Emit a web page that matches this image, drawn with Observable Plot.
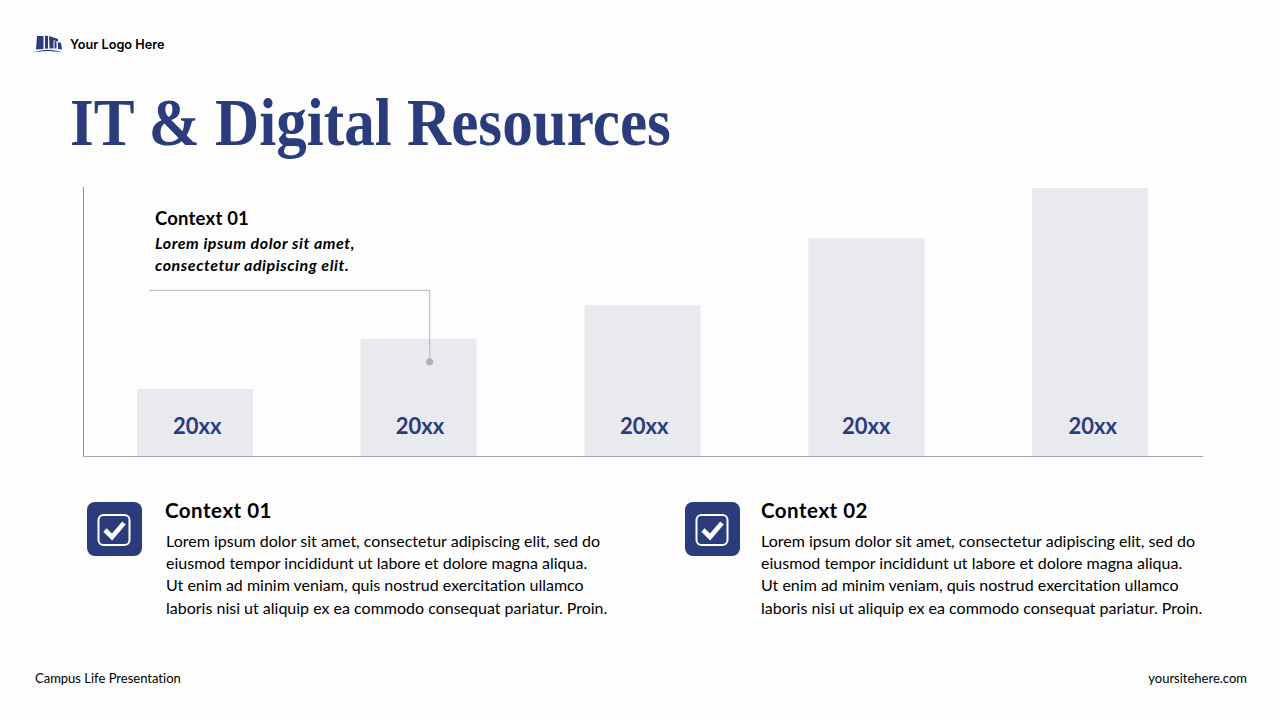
<!DOCTYPE html>
<html><head><meta charset="utf-8">
<script src="https://cdn.jsdelivr.net/npm/d3@7"></script>
<script src="https://cdn.jsdelivr.net/npm/@observablehq/plot@0.6"></script>
<style>
html,body{margin:0;padding:0;background:#fdfdfe;}
#page{position:relative;width:1280px;height:720px;overflow:hidden;font-family:Lato,sans-serif;color:#000;font-variant-ligatures:none;}
#page>div,#page>svg{position:absolute;white-space:nowrap;}
#chart{left:83px;top:187px;}
#chart svg{overflow:visible;background:transparent;display:block;}
.h{font-weight:700;font-size:20.5px;line-height:24px;letter-spacing:.5px}
.b{font-size:16px;line-height:22.4px}
.i{font-style:italic;font-weight:700;font-size:16px;line-height:22px;letter-spacing:.55px}
</style></head><body>
<div id="page">
<svg style="left:33px;top:33px" width="32" height="22" viewBox="0 0 32 22">
<path d="M4 3 L10.5 3 L10.5 16 L3 16.5 Z M12 2.5 L15 3 L15 15.5 L12 15.8 Z M16 3 L25 6 L25 8.5 L20.5 7.2 L20.5 15.5 L16.5 15.5 Z M21.5 8 L23.5 8.5 L23.5 15.5 L21.5 15.5 Z M25 9 L28 10 L29 16.5 L25 16 Z" fill="#2a3c7c"/>
<path d="M0 19.5 Q15 14 30 19.5 Q15 16.5 0 19.5 Z" fill="#2a3c7c"/></svg>
<div style="left:70px;top:37px;font:600 12.7px/16px Inter,sans-serif">Your Logo Here</div>
<div id="title" style="left:70px;top:84px;font:700 67px/76px 'Liberation Serif',serif;color:#2a3c7c;transform:scaleX(.913);transform-origin:0 0">IT &amp; Digital Resources</div>
<div id="chart"></div>
<div class="h" style="left:155px;top:206px;font-size:18.5px;letter-spacing:.2px">Context 01</div>
<div class="i" style="left:155px;top:232px">Lorem ipsum dolor sit amet,<br>consectetur adipiscing elit.</div>

<svg style="left:87px;top:502px" width="55" height="54" viewBox="0 0 55 54"><rect width="55" height="54" rx="8" fill="#2a3c7c"/><rect x="11.5" y="13" width="31" height="30" rx="5" fill="none" stroke="#fff" stroke-width="2"/><path d="M18 28 L25 35 L37 21" fill="none" stroke="#fff" stroke-width="4.6"/></svg>
<div class="h" style="left:165px;top:498px">Context 01</div>
<div class="b" style="left:166px;top:529.5px">Lorem ipsum dolor sit amet, consectetur adipiscing elit, sed do<br>eiusmod tempor incididunt ut labore et dolore magna aliqua.<br>Ut enim ad minim veniam, quis nostrud exercitation ullamco<br>laboris nisi ut aliquip ex ea commodo consequat pariatur. Proin.</div>

<svg style="left:685px;top:502px" width="55" height="54" viewBox="0 0 55 54"><rect width="55" height="54" rx="8" fill="#2a3c7c"/><rect x="11.5" y="13" width="31" height="30" rx="5" fill="none" stroke="#fff" stroke-width="2"/><path d="M18 28 L25 35 L37 21" fill="none" stroke="#fff" stroke-width="4.6"/></svg>
<div class="h" style="left:761px;top:498px">Context 02</div>
<div class="b" style="left:761px;top:529.5px">Lorem ipsum dolor sit amet, consectetur adipiscing elit, sed do<br>eiusmod tempor incididunt ut labore et dolore magna aliqua.<br>Ut enim ad minim veniam, quis nostrud exercitation ullamco<br>laboris nisi ut aliquip ex ea commodo consequat pariatur. Proin.</div>

<div style="left:35px;top:670px;font-size:13px;line-height:16px">Campus Life Presentation</div>
<div style="right:33px;top:670px;font-size:13px;line-height:16px">yoursitehere.com</div>
</div>
<script>
const slots = [0, 1, 2, 3, 4];
const labelSlots = [0.008, 1.004, 2.006, 2.998, 4.01];
const labels = ["20xx", "20xx", "20xx", "20xx", "20xx"];
const values = [25, 43.7, 56.3, 81.3, 100];
const connectorSlot = [-0.205, 1.047, 1.047];
const connectorValue = [62, 62, 35.4];
const barHalfWidth = 0.259;

const bars = slots.map((s, i) => ({slot: s, labelSlot: labelSlots[i], label: labels[i], value: values[i]}));
const connector = connectorSlot.map((s, i) => ({slot: s, value: connectorValue[i]}));

const plot = Plot.plot({
  width: 1120, height: 270,
  marginTop: 0, marginRight: 0, marginBottom: 0, marginLeft: 0,
  style: {background: "transparent", overflow: "visible"},
  x: {type: "linear", domain: [-0.5, 4.5], range: [0, 1119], axis: null},
  y: {type: "linear", domain: [0, 100], range: [269, 1], axis: null},
  marks: [
    Plot.rectY(bars, {x1: d => d.slot - barHalfWidth, x2: d => d.slot + barHalfWidth, y1: 0, y2: "value", fill: "#e9e9f0"}),
    Plot.text(bars, {x: "labelSlot", y: 0, text: "label", dy: -30, fill: "#2a3c7c", fontSize: 22, fontWeight: 700, fontFamily: "Lato, sans-serif"}),
    Plot.line(connector, {x: "slot", y: "value", stroke: "#b4b4bc", strokeWidth: 1}),
    Plot.dot(connector.slice(-1), {x: "slot", y: "value", r: 3.5, fill: "#b0b0ba"}),
    Plot.ruleY([0], {x1: -0.5, x2: 4.505, stroke: "#a8a4b4", strokeWidth: 1}),
    Plot.ruleX([-0.5], {y1: 0, y2: 100.4, stroke: "#8c8c94", strokeWidth: 1})
  ]
});
document.getElementById("chart").append(plot);
</script>
</body></html>
